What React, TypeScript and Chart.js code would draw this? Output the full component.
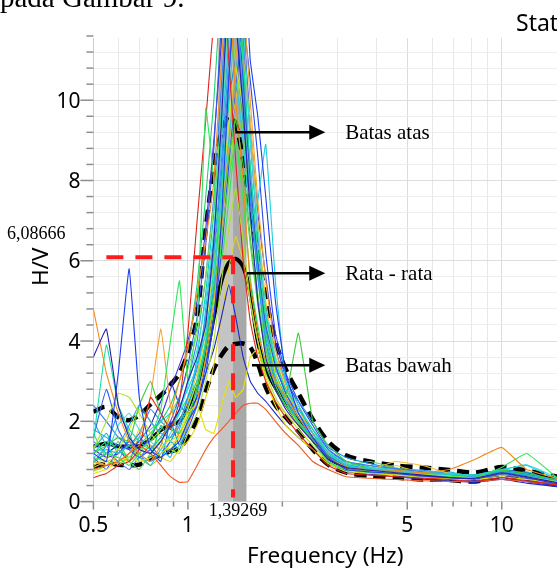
import React, { useEffect, useRef } from "react";
import { Chart, registerables } from "chart.js";

Chart.register(...registerables);

// ---------- data ----------
const FREQ = [0.5, 0.55, 0.6, 0.65, 0.7, 0.76, 0.82, 0.88, 0.94, 1.0, 1.07, 1.14, 1.21, 1.28, 1.35, 1.42, 1.5, 1.58, 1.67, 1.77, 1.9, 2.05, 2.25, 2.5, 2.8, 3.2, 3.8, 4.6, 5.6, 6.8, 8.2, 10, 12, 15.5];

const MEAN = [1.37, 1.45, 1.38, 1.37, 1.38, 1.55, 1.78, 1.9, 2.0, 2.35, 2.9, 3.6, 4.6, 5.5, 5.95, 6.05, 5.85, 5.2, 4.0, 3.3, 2.85, 2.45, 2.0, 1.55, 1.1, 0.86, 0.78, 0.73, 0.69, 0.66, 0.63, 0.75, 0.68, 0.52];
const UPPER = [2.24, 2.36, 2.1, 2.03, 2.15, 2.42, 2.65, 2.9, 3.2, 3.7, 4.6, 6.8, 8.3, 9.2, 9.6, 9.4, 8.5, 7.3, 6.2, 5.1, 4.0, 3.3, 2.7, 2.05, 1.5, 1.15, 1.0, 0.9, 0.85, 0.79, 0.72, 0.86, 0.77, 0.6];
const LOWER = [0.87, 0.95, 0.92, 0.91, 0.92, 1.07, 1.17, 1.25, 1.33, 1.6, 2.05, 2.75, 3.3, 3.65, 3.88, 3.93, 3.94, 3.85, 3.45, 2.85, 2.4, 2.1, 1.75, 1.3, 0.92, 0.72, 0.64, 0.6, 0.55, 0.54, 0.5, 0.62, 0.55, 0.4];

const W01 = [3.6, 4.3, 2.4, 1.6, 1.3, 1.2, 1.5, 1.9, 2.3, 3.0, 3.6, 4.4, 6.5, 9.5, 13, 12, 9.8, 7.2, 5.0, 3.6, 2.8, 2.3, 1.9, 1.5, 1.05, 0.85, 0.78, 0.72, 0.66, 0.6, 0.58, 0.72, 0.62, 0.45];
const W02 = [1.2, 1.0, 3.2, 5.8, 2.6, 1.3, 1.1, 1.3, 1.5, 2.0, 2.4, 3.2, 4.5, 7.0, 10.5, 13, 14, 11, 9.6, 7.6, 5.0, 3.2, 2.2, 1.6, 1.1, 0.8, 0.74, 0.7, 0.64, 0.6, 0.56, 0.7, 0.6, 0.42];
const W03 = [4.8, 3.2, 2.2, 1.5, 1.2, 1.0, 1.4, 2.2, 3.0, 3.8, 5.2, 6.5, 8.0, 11, 13, 10, 8.0, 5.4, 4.2, 3.5, 3.0, 2.6, 2.1, 1.6, 1.1, 0.85, 0.8, 0.78, 0.72, 0.8, 1.05, 1.35, 0.8, 0.55];
const W04 = [1.0, 1.2, 1.1, 0.9, 1.2, 1.6, 2.3, 4.0, 5.5, 3.0, 4.5, 9.8, 8.0, 6.0, 7.5, 9.0, 7.5, 5.6, 4.4, 3.4, 2.8, 2.4, 2.0, 1.5, 1.0, 0.8, 0.72, 0.7, 0.65, 0.62, 0.6, 0.85, 1.2, 0.5];
const W05 = [1.3, 2.0, 2.7, 2.6, 2.2, 1.7, 1.4, 1.3, 1.2, 1.7, 2.2, 3.0, 4.0, 5.5, 6.8, 7.8, 6.5, 5.0, 4.0, 3.2, 2.6, 2.2, 1.8, 1.4, 1.0, 0.8, 0.75, 0.72, 0.68, 0.64, 0.6, 0.7, 0.62, 0.48];
const W06 = [0.6, 0.7, 0.9, 1.0, 1.3, 2.6, 2.2, 1.8, 2.5, 4.2, 7.0, 9.5, 12, 14, 11, 8.5, 6.0, 4.5, 3.6, 3.0, 2.5, 2.1, 1.7, 1.3, 0.9, 0.7, 0.66, 0.62, 0.58, 0.55, 0.5, 0.6, 0.52, 0.4];
const W07 = [0.8, 0.9, 1.0, 1.2, 1.4, 1.2, 0.9, 0.62, 0.48, 0.5, 0.9, 1.3, 1.6, 1.8, 2.0, 2.2, 2.4, 2.45, 2.45, 2.3, 2.0, 1.7, 1.4, 1.0, 0.8, 0.62, 0.58, 0.55, 0.52, 0.5, 0.5, 0.55, 0.5, 0.42];
const W08 = [0.7, 0.8, 1.0, 1.1, 1.0, 1.1, 1.2, 1.4, 1.6, 2.2, 2.4, 1.8, 1.7, 2.4, 3.0, 2.6, 2.8, 3.6, 3.8, 3.0, 2.4, 1.9, 1.6, 1.3, 0.95, 0.75, 0.7, 0.66, 0.6, 0.56, 0.55, 0.62, 0.55, 0.45];
const W09 = [1.1, 1.3, 1.2, 1.4, 1.6, 1.8, 2.0, 2.2, 2.4, 2.8, 3.4, 4.2, 5.5, 7.5, 9.0, 10.5, 9.0, 7.0, 7.5, 8.9, 5.5, 3.0, 2.2, 1.7, 1.2, 0.9, 0.82, 0.76, 0.7, 0.68, 0.66, 0.8, 0.9, 0.5];
const W10 = [1.8, 1.6, 1.4, 1.9, 2.4, 2.0, 1.7, 1.6, 2.0, 2.6, 3.4, 4.6, 6.2, 8.5, 11, 12.5, 10, 7.5, 5.6, 4.0, 3.0, 2.5, 2.0, 1.6, 1.15, 0.9, 0.8, 0.74, 0.7, 0.65, 0.62, 0.74, 0.65, 0.5];
const W11 = [1.5, 3.9, 2.4, 1.8, 1.5, 1.3, 1.6, 1.9, 2.2, 2.6, 3.0, 4.0, 5.8, 7.8, 10, 12, 11, 8.4, 6.3, 4.6, 3.5, 2.8, 2.3, 1.8, 1.2, 0.9, 0.8, 0.75, 0.7, 0.66, 0.62, 0.74, 0.66, 0.5];
const W12 = [1.2, 1.4, 1.6, 1.5, 2.4, 3.0, 2.2, 1.8, 1.7, 2.1, 2.8, 3.8, 5.2, 7.0, 8.6, 9.5, 8.4, 6.6, 5.0, 3.8, 3.0, 2.6, 4.2, 2.0, 1.4, 1.0, 0.82, 0.76, 0.72, 0.68, 0.64, 0.78, 0.7, 0.52];
const W13 = [1.0, 0.9, 1.0, 1.2, 1.6, 2.6, 4.3, 2.4, 1.6, 1.9, 2.5, 3.6, 5.0, 6.8, 8.8, 11, 12.5, 10, 7.5, 5.5, 3.8, 2.9, 2.3, 1.7, 1.2, 0.88, 0.78, 0.7, 0.66, 0.62, 0.6, 0.7, 0.6, 0.45];
const W14 = [1.6, 2.8, 1.8, 1.3, 1.1, 1.3, 1.6, 2.0, 2.6, 3.4, 4.6, 6.4, 8.8, 12, 15, 13, 10.5, 8.0, 6.0, 4.4, 3.4, 2.7, 2.1, 1.6, 1.05, 0.85, 0.78, 0.7, 0.64, 0.6, 0.56, 0.68, 0.58, 0.42];
const W15 = [0.9, 1.1, 1.3, 1.8, 2.3, 2.0, 1.6, 1.5, 1.7, 2.3, 3.0, 4.4, 6.0, 7.6, 9.4, 10.8, 9.8, 8.0, 6.2, 4.5, 3.2, 2.5, 1.9, 1.5, 1.0, 0.8, 0.72, 0.68, 0.64, 0.6, 0.58, 0.66, 0.6, 0.46];
const W16 = [1.4, 1.2, 1.9, 2.2, 1.8, 1.5, 1.3, 1.7, 2.2, 2.9, 3.8, 5.0, 6.8, 9.2, 12, 14, 12, 9.0, 6.8, 4.8, 3.6, 3.0, 2.4, 1.8, 1.25, 0.95, 0.85, 0.78, 0.72, 0.7, 0.66, 0.78, 0.92, 0.55];
const W17 = [1.1, 1.0, 0.95, 1.1, 1.3, 1.5, 1.8, 2.2, 2.6, 3.3, 4.2, 5.6, 7.4, 9.6, 12, 11, 9.2, 7.0, 5.2, 3.9, 3.0, 2.5, 2.0, 1.6, 1.1, 0.85, 0.76, 0.72, 0.68, 0.63, 0.6, 0.72, 0.62, 0.48];
const W18 = [1.0, 1.2, 1.4, 1.3, 1.5, 1.9, 2.5, 3.0, 2.4, 2.2, 2.6, 3.2, 3.8, 4.6, 5.4, 4.6, 3.6, 3.0, 2.7, 2.5, 2.2, 1.9, 1.6, 1.3, 0.95, 0.75, 0.68, 0.62, 0.56, 0.52, 0.48, 0.56, 0.46, 0.36];
const W19 = [0.85, 1.0, 1.1, 1.0, 1.2, 1.4, 1.3, 1.6, 2.0, 2.5, 3.2, 4.2, 5.6, 7.2, 9.0, 10, 11, 9.5, 7.0, 5.0, 3.6, 2.8, 2.2, 1.7, 1.2, 0.9, 0.8, 1.0, 0.9, 0.7, 0.62, 0.72, 0.62, 0.46];
const W20 = [1.2, 1.5, 1.3, 1.1, 1.4, 1.7, 2.0, 2.4, 3.0, 3.8, 5.4, 7.6, 10, 13, 15, 14, 11, 8.0, 5.8, 4.2, 3.2, 2.6, 2.1, 1.6, 1.1, 0.86, 0.8, 0.74, 0.7, 0.66, 0.6, 0.7, 0.64, 0.5];
const W21 = [2.4, 2.0, 1.6, 1.4, 1.7, 2.3, 2.0, 1.8, 2.3, 3.0, 4.0, 5.6, 7.6, 10.4, 13, 12, 10, 8.4, 6.0, 4.4, 3.3, 2.8, 2.3, 1.8, 1.3, 1.0, 0.9, 0.82, 0.74, 0.7, 0.64, 0.8, 0.68, 0.48];
const W22 = [1.3, 1.1, 1.2, 1.5, 1.3, 1.6, 2.1, 2.8, 3.4, 4.0, 5.0, 6.8, 9.0, 11.5, 14, 15, 12, 9.4, 7.2, 5.6, 4.0, 3.1, 2.4, 1.7, 1.15, 0.82, 0.74, 0.68, 0.62, 0.58, 0.55, 0.65, 0.55, 0.38];
const W23 = [2.0, 1.4, 1.0, 1.6, 1.2, 0.9, 1.3, 1.1, 1.8, 2.4, 3.0, 4.8, 6.6, 9.0, 11.5, 13, 11, 8.2, 6.0, 4.3, 3.2, 2.6, 2.0, 1.5, 1.0, 0.78, 0.9, 0.7, 0.6, 0.74, 0.58, 0.66, 0.74, 0.44];
const W24 = [0.95, 1.4, 2.2, 1.7, 1.1, 1.4, 1.1, 1.5, 1.3, 1.9, 2.7, 3.9, 5.4, 7.8, 10, 11, 9.4, 7.6, 5.8, 4.6, 3.8, 3.0, 2.5, 2.0, 1.35, 1.1, 0.95, 0.82, 0.78, 0.7, 0.66, 0.8, 0.7, 0.5];
const W25 = [1.7, 1.1, 1.5, 1.0, 0.8, 1.2, 1.5, 1.2, 1.4, 2.0, 2.9, 4.0, 5.2, 6.6, 8.0, 9.0, 8.0, 6.4, 4.9, 3.7, 2.9, 2.4, 1.95, 1.55, 1.15, 0.9, 1.0, 0.84, 0.7, 0.62, 0.6, 0.68, 0.6, 0.44];
const W26 = [1.1, 0.8, 1.3, 1.0, 1.6, 1.3, 1.0, 2.0, 1.4, 1.8, 2.4, 3.4, 4.6, 6.2, 8.4, 10.2, 12, 10.5, 8.6, 6.2, 4.2, 3.2, 2.5, 1.9, 1.3, 0.95, 0.78, 0.66, 0.6, 0.56, 0.52, 0.6, 0.5, 0.36];
const W27 = [1.0, 1.3, 0.9, 1.2, 1.8, 1.4, 1.1, 1.0, 1.3, 1.5, 1.9, 2.6, 3.4, 4.6, 5.8, 6.6, 6.0, 5.0, 4.0, 3.1, 2.5, 2.2, 1.9, 1.5, 1.1, 0.85, 0.8, 0.9, 0.7, 0.66, 0.62, 0.7, 0.64, 0.5];
const W28 = [1.3, 1.7, 1.2, 1.4, 1.0, 1.1, 1.9, 1.5, 2.0, 2.3, 3.6, 5.2, 7.2, 9.8, 12.5, 13, 10.4, 7.8, 5.6, 4.1, 3.1, 2.5, 2.0, 1.6, 1.2, 1.0, 0.86, 0.8, 0.74, 0.68, 0.64, 0.76, 0.66, 0.48];
const W29 = [1.5, 1.2, 1.0, 0.8, 1.1, 1.0, 1.2, 1.5, 1.9, 2.6, 3.3, 4.5, 6.0, 8.2, 10.6, 12.4, 11.6, 9.0, 6.6, 4.8, 3.4, 2.7, 2.2, 1.7, 1.25, 0.9, 0.8, 0.72, 0.66, 0.62, 0.58, 0.7, 0.58, 0.4];
const W30 = [0.75, 0.9, 1.2, 1.4, 1.1, 0.9, 1.1, 1.3, 1.6, 2.0, 2.6, 3.5, 4.8, 6.4, 8.0, 9.6, 9.2, 7.6, 5.8, 4.4, 3.4, 2.7, 2.2, 1.7, 1.2, 0.92, 0.84, 0.76, 0.7, 0.66, 0.62, 0.74, 0.64, 0.5];

const WINDOWS = [W01, W02, W03, W04, W05, W06, W07, W08, W09, W10, W11, W12, W13, W14, W15, W16, W17, W18, W19, W20, W21, W22, W23, W24, W25, W26, W27, W28, W29, W30];
const WINDOW_COLORS = ["#2b1fa8", "#1c3df5", "#f08a1c", "#2ee65a", "#a6e22e", "#e0231c", "#ee5a24", "#e4e400", "#1ccfe0", "#2b9bf0", "#14e0a0", "#3cc83c", "#f5a02a", "#2f5ae6", "#c8e61e", "#3fe0d0", "#7ae04a", "#1a28c8", "#f0c030", "#20d070", "#3a7cf5", "#4b2fd6", "#19b4e6", "#0f8cf0", "#5ad25a", "#2848f0", "#e6d21e", "#00c8b4", "#4678ff", "#8ee01e"];

const F0 = 1.39269;
const F0_LABEL = "1,39269";
const PEAK_AMP = 6.08666;
const PEAK_LABEL = "6,08666";
const BAND_LOW = 1.248;
const BAND_HIGH = 1.537;
const RED_LINE_START = 0.55;

const X_MAJOR = [0.5, 1, 5, 10];
const X_MAJOR_LABELS = ["0.5", "1", "5", "10"];
const X_MINOR = [0.6, 0.7, 0.8, 0.9, 2, 3, 4, 6, 7, 8, 9];
const Y_MAJOR = [0, 2, 4, 6, 8, 10];
const Y_MINOR_STEP = 0.4;

const NOTE_LABELS = ["Batas atas", "Rata - rata", "Batas bawah"];
const NOTE_START_F = [1.416, 1.543, 1.6];
const NOTE_START_V = [9.2, 5.69, 3.4];
const NOTE_TIP_F = 2.74;
const NOTE_TEXT_F = 3.17;

const SANS = '"Noto Sans", "DejaVu Sans", sans-serif';
const SERIF = '"Liberation Serif", "DejaVu Serif", serif';

const decor = {
  id: "decor",
  beforeDatasetsDraw(chart: any) {
    const { ctx, chartArea: a, scales } = chart;
    const x = scales.x;
    const xl = x.getPixelForValue(BAND_LOW);
    const xm = x.getPixelForValue(F0);
    const xh = x.getPixelForValue(BAND_HIGH);
    ctx.save();
    ctx.fillStyle = "#c4c4c4";
    ctx.fillRect(xl, a.top, xm - xl, a.bottom - a.top);
    ctx.fillStyle = "#a8a8a8";
    ctx.fillRect(xm, a.top, xh - xm, a.bottom - a.top);
    ctx.restore();
  },
  afterDatasetsDraw(chart: any) {
    const { ctx, chartArea: a, scales } = chart;
    const x = scales.x;
    const y = scales.y;
    ctx.save();
    ctx.strokeStyle = "#ff1c1c";
    ctx.lineWidth = 4;
    ctx.setLineDash([17, 12]);
    const py = y.getPixelForValue(PEAK_AMP);
    const px = x.getPixelForValue(F0);
    ctx.beginPath();
    ctx.moveTo(x.getPixelForValue(RED_LINE_START), py);
    ctx.lineTo(px, py);
    ctx.stroke();
    ctx.beginPath();
    ctx.moveTo(px, py);
    ctx.lineTo(px, a.bottom - 4);
    ctx.stroke();
    ctx.setLineDash([]);

    const tip = x.getPixelForValue(NOTE_TIP_F);
    const tx = x.getPixelForValue(NOTE_TEXT_F);
    ctx.strokeStyle = "#000";
    ctx.fillStyle = "#000";
    ctx.lineWidth = 2.5;
    ctx.font = `21px ${SERIF}`;
    ctx.textAlign = "left";
    ctx.textBaseline = "middle";
    NOTE_LABELS.forEach((lab, i) => {
      const sx = x.getPixelForValue(NOTE_START_F[i]);
      const sy = y.getPixelForValue(NOTE_START_V[i]);
      ctx.beginPath();
      ctx.moveTo(sx, sy);
      ctx.lineTo(tip - 14, sy);
      ctx.stroke();
      ctx.beginPath();
      ctx.moveTo(tip - 16, sy - 7.5);
      ctx.lineTo(tip, sy);
      ctx.lineTo(tip - 16, sy + 7.5);
      ctx.closePath();
      ctx.fill();
      ctx.fillText(lab, tx, sy + 1);
    });
    ctx.restore();
  },
  afterDraw(chart: any) {
    const { ctx, chartArea: a, scales } = chart;
    const x = scales.x;
    const y = scales.y;
    ctx.save();
    ctx.strokeStyle = "#8e8e8e";
    ctx.lineWidth = 1.5;
    for (let i = 0; i <= 29; i++) {
      const v = i * Y_MINOR_STEP;
      const p = y.getPixelForValue(v);
      const major = i % 5 === 0;
      ctx.beginPath();
      ctx.moveTo(a.left - (major ? 13 : 7), p);
      ctx.lineTo(a.left, p);
      ctx.stroke();
    }
    X_MAJOR.forEach((v) => {
      const p = x.getPixelForValue(v);
      ctx.beginPath();
      ctx.moveTo(p, a.bottom);
      ctx.lineTo(p, a.bottom + 8);
      ctx.stroke();
    });
    X_MINOR.forEach((v) => {
      const p = x.getPixelForValue(v);
      ctx.beginPath();
      ctx.moveTo(p, a.bottom);
      ctx.lineTo(p, a.bottom + 5);
      ctx.stroke();
    });
    ctx.fillStyle = "#000";
    ctx.font = `21px ${SANS}`;
    ctx.textAlign = "right";
    ctx.textBaseline = "alphabetic";
    Y_MAJOR.forEach((v) => {
      ctx.fillText(String(v), a.left - 13, y.getPixelForValue(v) + 7.5);
    });
    ctx.textAlign = "center";
    X_MAJOR.forEach((v, i) => {
      ctx.fillText(X_MAJOR_LABELS[i], x.getPixelForValue(v), a.bottom + 30);
    });
    ctx.font = `22.5px ${SANS}`;
    ctx.fillText("Frequency (Hz)", (a.left + a.right) / 2, a.bottom + 61.5);
    ctx.save();
    ctx.translate(48, (a.top + a.bottom) / 2 - 3);
    ctx.rotate(-Math.PI / 2);
    ctx.fillText("H/V", 0, 0);
    ctx.restore();
    ctx.font = `18px ${SERIF}`;
    ctx.textAlign = "left";
    ctx.textBaseline = "middle";
    ctx.fillText(PEAK_LABEL, 7, y.getPixelForValue(PEAK_AMP) - 23);
    ctx.textAlign = "center";
    ctx.fillText(F0_LABEL, x.getPixelForValue(F0) + 5, a.bottom + 10);
    ctx.restore();
  },
};

export default function App() {
  const ref = useRef<HTMLCanvasElement>(null);
  useEffect(() => {
    const canvas = ref.current;
    if (!canvas) return;
    const datasets: any[] = WINDOWS.map((w, i) => ({
      data: w.map((v, j) => ({ x: FREQ[j], y: v })),
      borderColor: WINDOW_COLORS[i],
      borderWidth: 1.1,
      pointRadius: 0,
      tension: 0.1,
      fill: false,
    }));
    const black = (vals: number[], dashed: boolean) => ({
      data: vals.map((v, j) => ({ x: FREQ[j], y: v })),
      borderColor: "#000",
      borderWidth: dashed ? 4.5 : 4,
      borderDash: dashed ? [12, 7] : [],
      pointRadius: 0,
      tension: 0.3,
      fill: false,
    });
    datasets.push(black(UPPER, true), black(LOWER, true), black(MEAN, false));

    const xTicks = [...X_MAJOR, ...X_MINOR].sort((p, q) => p - q);
    const yTicks: number[] = [];
    for (let i = 0; i <= 28; i++) yTicks.push(i * Y_MINOR_STEP);

    const chart = new Chart(canvas, {
      type: "line",
      data: { datasets },
      options: {
        animation: false,
        responsive: false,
        devicePixelRatio: 1,
        layout: { padding: { top: 38, left: 0, right: 0, bottom: 0 } },
        plugins: { legend: { display: false }, tooltip: { enabled: false } },
        scales: {
          x: {
            type: "logarithmic",
            min: 0.5,
            max: 15,
            afterBuildTicks: (s: any) => {
              s.ticks = xTicks.map((v) => ({ value: v }));
            },
            afterFit: (s: any) => {
              s.height = 68.4;
            },
            ticks: { display: false },
            grid: {
              color: (c: any) => (X_MAJOR.includes(c.tick?.value) ? "#dcdcdc" : "#e8e8e8"),
              drawTicks: false,
            },
            border: { color: "#cfcfcf" },
          },
          y: {
            type: "linear",
            min: 0,
            max: 11.55,
            afterBuildTicks: (s: any) => {
              s.ticks = yTicks.map((v) => ({ value: v }));
            },
            afterFit: (s: any) => {
              s.width = 93.4;
            },
            ticks: { display: false },
            grid: {
              color: (c: any) => {
                const v = c.tick?.value ?? 0;
                return Math.abs(v / 2 - Math.round(v / 2)) < 1e-6 ? "#dddddd" : "#eeeeee";
              },
              drawTicks: false,
            },
            border: { color: "#cfcfcf" },
          },
        },
      } as any,
      plugins: [decor],
    });
    return () => chart.destroy();
  }, []);

  return (
    <div style={{ position: "absolute", left: 0, top: 0, width: 557, height: 570, overflow: "hidden", background: "#fff" }}>
      <canvas ref={ref} width={557} height={570} style={{ display: "block", width: 557, height: 570 }} />
      <div style={{ position: "absolute", left: 0, top: -17, fontFamily: SERIF, fontSize: 29, lineHeight: "29px", whiteSpace: "nowrap" }}>
        pada Gambar 9.
      </div>
      <div style={{ position: "absolute", left: 516, top: 11, fontFamily: SANS, fontSize: 23, lineHeight: "23px", whiteSpace: "nowrap" }}>
        Stat
      </div>
    </div>
  );
}
